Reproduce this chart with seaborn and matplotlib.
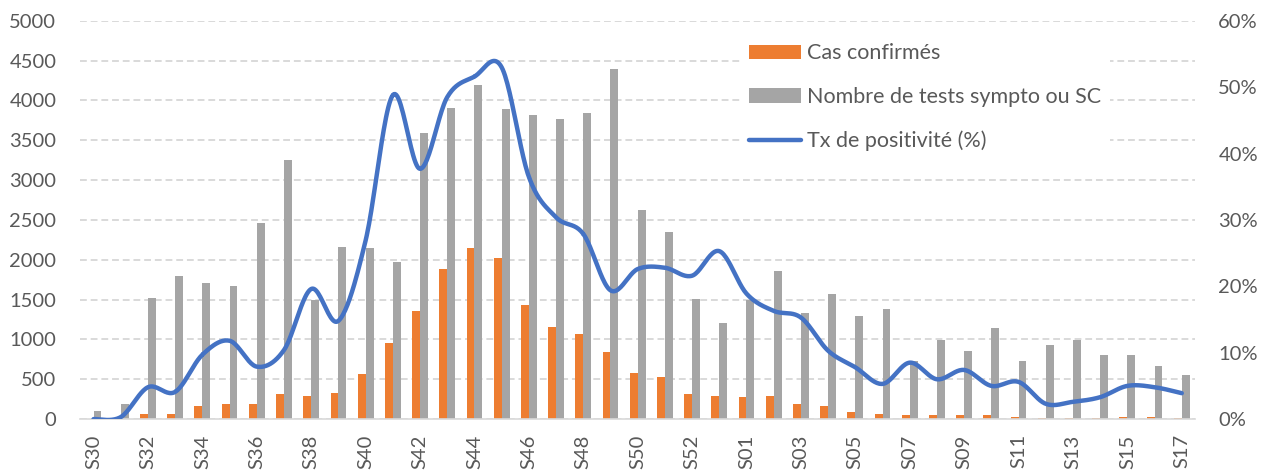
import numpy as np
import pandas as pd
import seaborn as sns
import matplotlib.pyplot as plt
from matplotlib.lines import Line2D
from matplotlib.patches import Patch
from matplotlib.ticker import PercentFormatter, FixedLocator

# Semaines S30 -> S53 (2020) puis S01 -> S17 (2021)
semaines = [f"S{n}" for n in range(30, 54)] + [f"S{n:02d}" for n in range(1, 18)]

cas_confirmes = [0, 0, 59, 67, 159, 189, 193, 318, 285, 323, 562, 956, 1354, 1882,
                 2150, 2028, 1433, 1161, 1065, 847, 583, 524, 314, 293,
                 281, 293, 189, 159, 92, 63, 54, 50, 54, 50, 29, 17, 17, 17, 29, 21, 17]

nb_tests = [105, 189, 1525, 1798, 1710, 1668, 2460, 3248, 1500, 2158, 2150, 1966, 3596, 3906,
            4200, 3889, 3822, 3772, 3847, 4400, 2628, 2343, 1509, 1203,
            1490, 1857, 1333, 1572, 1295, 1383, 733, 993, 851, 1140, 733, 935, 989, 809, 800, 662, 557]

tx_positivite = [0.0, 0.3, 4.8, 4.1, 9.7, 11.8, 7.9, 10.4, 19.6, 14.8, 26.9, 48.8, 37.7, 48.5,
                 51.6, 53.0, 36.5, 30.4, 27.9, 19.4, 22.6, 22.8, 21.6, 25.3,
                 18.9, 16.3, 15.3, 10.3, 7.8, 5.3, 8.5, 6.0, 7.4, 5.0, 5.6, 2.3, 2.6, 3.3, 5.0, 4.8, 3.9]

lbl_cas = "Cas confirmés"
lbl_tests = "Nombre de tests sympto ou SC"
lbl_tx = "Tx de positivité (%)"

orange = "#ED7D31"
gris = "#A5A5A5"
bleu = "#4472C4"
txt = "#595959"

df = pd.DataFrame({"semaine": semaines, lbl_cas: cas_confirmes, lbl_tests: nb_tests})
df_long = df.melt(id_vars="semaine", var_name="serie", value_name="valeur")

sns.set_style("white")
plt.rcParams["font.family"] = ["Lato", "DejaVu Sans"]

fig = plt.figure(figsize=(12.69, 4.73), dpi=100)
ax = fig.add_axes([0.063, 0.114, 0.879, 0.842])

sns.barplot(data=df_long, x="semaine", y="valeur", hue="serie", order=semaines,
            hue_order=[lbl_cas, lbl_tests], palette=[orange, gris], saturation=1,
            width=0.58, gap=0, linewidth=0, edgecolor="none", legend=False, ax=ax)

ax.set_xlim(-0.5, len(semaines) - 0.5)
ax.set_ylim(0, 5000)
ax.set_yticks(np.arange(0, 5001, 500))
ax.yaxis.grid(True, linestyle=(0, (3.5, 2)), color="#d9d9d9", linewidth=1.4)
ax.set_axisbelow(True)
ax.set_xlabel("")
ax.set_ylabel("")

ax.set_xticks(range(0, len(semaines), 2))
ax.set_xticklabels(semaines[::2], rotation=90)
ax.xaxis.set_minor_locator(FixedLocator(np.arange(-0.5, len(semaines), 1)))
ax.tick_params(axis="x", which="major", length=0, pad=11, labelsize=14.5, labelcolor=txt)
ax.tick_params(axis="x", which="minor", length=7, width=1.2, color="#d9d9d9")
ax.tick_params(axis="y", length=0, labelsize=14.5, labelcolor=txt, pad=17)

for s in ["left", "right", "top"]:
    ax.spines[s].set_visible(False)
ax.spines["bottom"].set_color("#d9d9d9")
ax.spines["bottom"].set_linewidth(1.2)

# courbe lissée (Catmull-Rom) pour le taux de positivité
x = np.arange(len(semaines), dtype=float)
y = np.array(tx_positivite) / 100
px = np.concatenate([[x[0]], x, [x[-1]]])
py = np.concatenate([[y[0]], y, [y[-1]]])
xs, ys = [], []
t = np.linspace(0, 1, 25)
for i in range(1, len(px) - 2):
    p0, p1, p2, p3 = (np.array([px[j], py[j]]) for j in (i - 1, i, i + 1, i + 2))
    seg = 0.5 * ((2 * p1)[:, None] + (-p0 + p2)[:, None] * t
                 + (2 * p0 - 5 * p1 + 4 * p2 - p3)[:, None] * t ** 2
                 + (-p0 + 3 * p1 - 3 * p2 + p3)[:, None] * t ** 3)
    xs.extend(seg[0])
    ys.extend(seg[1])

ax2 = ax.twinx()
ax2.plot(xs, ys, color=bleu, linewidth=3.2, solid_capstyle="round")
ax2.set_ylim(0, 0.6)
ax2.set_yticks(np.arange(0, 0.61, 0.1))
ax2.yaxis.set_major_formatter(PercentFormatter(1.0, decimals=0))
ax2.tick_params(axis="y", length=0, labelsize=14.5, labelcolor=txt, pad=16.5)
for s in ax2.spines.values():
    s.set_visible(False)

handles = [Patch(facecolor=orange, edgecolor="none"),
           Patch(facecolor=gris, edgecolor="none"),
           Line2D([0], [0], color=bleu, linewidth=3.2, solid_capstyle="round")]
leg = ax2.legend(handles, [lbl_cas, lbl_tests, lbl_tx], loc="upper left",
                 bbox_to_anchor=(730 / 1269, 1 - 24 / 473), bbox_transform=fig.transFigure,
                 frameon=True, facecolor="white", edgecolor="none", framealpha=1,
                 fontsize=15.5, labelcolor=txt, handlelength=2.4, handleheight=0.65,
                 handletextpad=0.28, labelspacing=1.1, borderpad=0.4, fancybox=False)

fig.savefig("out.png", dpi=100)
